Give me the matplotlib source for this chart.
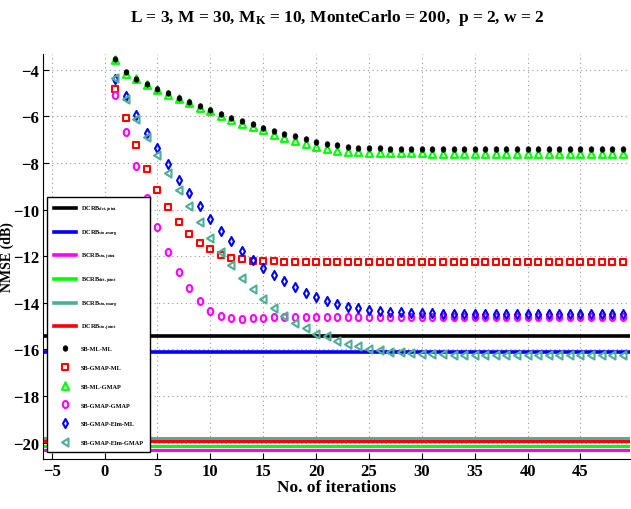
import matplotlib
matplotlib.use("Agg")
import matplotlib.pyplot as plt
from matplotlib.lines import Line2D
from matplotlib.path import Path
import numpy as np

plt.rcParams['font.family'] = ['Liberation Serif', 'DejaVu Serif']
plt.rcParams['font.weight'] = 'bold'
plt.rcParams['mathtext.fontset'] = 'custom'
plt.rcParams['mathtext.rm'] = 'Liberation Serif:bold'
plt.rcParams['mathtext.bf'] = 'Liberation Serif:bold'
plt.rcParams['mathtext.it'] = 'Liberation Serif:bold'

iterations = list(range(1, 50))

sb_ml_ml = [-3.55, -4.12, -4.38, -4.60, -4.82, -5.02, -5.20, -5.38, -5.57, -5.73,
            -5.91, -6.06, -6.21, -6.35, -6.48, -6.62, -6.74, -6.86, -6.97, -7.08,
            -7.17, -7.24, -7.30, -7.34, -7.36, -7.38, -7.39, -7.39, -7.40, -7.40,
            -7.40, -7.40, -7.40, -7.40, -7.40, -7.40, -7.40, -7.40, -7.40, -7.40,
            -7.40, -7.40, -7.40, -7.40, -7.40, -7.40, -7.40, -7.40, -7.40]
sb_ml_gmap = [-3.60, -4.17, -4.42, -4.64, -4.86, -5.07, -5.24, -5.43, -5.63, -5.79,
              -5.99, -6.15, -6.32, -6.46, -6.60, -6.78, -6.92, -7.06, -7.20, -7.32,
              -7.41, -7.47, -7.51, -7.54, -7.56, -7.57, -7.58, -7.58, -7.59, -7.59,
              -7.60, -7.60, -7.60, -7.60, -7.60, -7.60, -7.60, -7.60, -7.60, -7.60,
              -7.60, -7.60, -7.60, -7.60, -7.60, -7.60, -7.60, -7.60, -7.60]
sb_gmap_ml = [-4.82, -6.07, -7.22, -8.25, -9.15, -9.87, -10.52, -11.04, -11.42, -11.71,
              -11.94, -12.07, -12.14, -12.19, -12.21, -12.22, -12.23, -12.23, -12.24, -12.24,
              -12.24, -12.24, -12.24, -12.24, -12.24, -12.24, -12.24, -12.24, -12.24, -12.24,
              -12.24, -12.24, -12.24, -12.24, -12.24, -12.24, -12.24, -12.24, -12.24, -12.24,
              -12.24, -12.24, -12.24, -12.24, -12.24, -12.24, -12.24, -12.24, -12.24]
sb_gmap_gmap = [-5.10, -6.67, -8.13, -9.50, -10.73, -11.82, -12.68, -13.37, -13.94, -14.33,
                -14.55, -14.64, -14.68, -14.67, -14.64, -14.62, -14.61, -14.60, -14.60, -14.59,
                -14.59, -14.59, -14.59, -14.59, -14.59, -14.59, -14.59, -14.59, -14.59, -14.59,
                -14.59, -14.59, -14.59, -14.59, -14.59, -14.59, -14.59, -14.59, -14.59, -14.59,
                -14.59, -14.59, -14.59, -14.59, -14.59, -14.59, -14.59, -14.59, -14.59]
sb_gmap_elm_ml = [-4.39, -5.13, -5.93, -6.72, -7.35, -8.05, -8.71, -9.28, -9.85, -10.39,
                  -10.90, -11.34, -11.78, -12.15, -12.51, -12.80, -13.05, -13.31, -13.56, -13.75,
                  -13.91, -14.06, -14.16, -14.23, -14.31, -14.36, -14.39, -14.41, -14.43, -14.44,
                  -14.45, -14.46, -14.46, -14.46, -14.46, -14.46, -14.46, -14.46, -14.46, -14.46,
                  -14.46, -14.46, -14.46, -14.46, -14.46, -14.46, -14.46, -14.46, -14.46]
sb_gmap_elm_gmap = [-4.36, -5.24, -6.10, -6.89, -7.68, -8.42, -9.15, -9.85, -10.54, -11.22,
                    -11.82, -12.39, -12.94, -13.40, -13.83, -14.23, -14.55, -14.86, -15.09, -15.32,
                    -15.44, -15.64, -15.77, -15.87, -15.97, -16.04, -16.09, -16.13, -16.16, -16.18,
                    -16.20, -16.21, -16.22, -16.23, -16.24, -16.25, -16.25, -16.25, -16.25, -16.25,
                    -16.25, -16.25, -16.25, -16.25, -16.25, -16.25, -16.25, -16.25, -16.25]

bound_labels = [r'DCRB$_{\mathrm{det,joint}}$', r'DCRB$_{\mathrm{sto,marg}}$',
                r'BCRB$_{\mathrm{sto,joint}}$', r'BCRB$_{\mathrm{det,joint}}$',
                r'BCRB$_{\mathrm{sto,marg}}$', r'DCRB$_{\mathrm{sto,joint}}$']
bound_values = [-15.44, -16.10, -20.32, -20.14, -19.78, -19.92]
bound_colors = ['black', '#0000ff', '#ff00ff', '#00ff00', '#4fae97', '#ff0000']

series_labels = ['SB-ML-ML', 'SB-GMAP-ML', 'SB-ML-GMAP', 'SB-GMAP-GMAP',
                 'SB-GMAP-Elm-ML', 'SB-GMAP-Elm-GMAP']
series_values = [sb_ml_ml, sb_gmap_ml, sb_ml_gmap, sb_gmap_gmap, sb_gmap_elm_ml, sb_gmap_elm_gmap]
series_colors = ['black', '#ff0000', '#00ff00', '#ff00ff', '#0000ff', '#4fae97']

xticks = [-5, 0, 5, 10, 15, 20, 25, 30, 35, 40, 45]
yticks = [-20, -18, -16, -14, -12, -10, -8, -6, -4]

# vertically stretched marker shapes (as in the reference rendering)
t = np.linspace(0, 2 * np.pi, 40)
ellipse = Path(np.column_stack([0.78 * np.cos(t), np.sin(t)]), closed=True)
rect = Path([(-0.8, -1), (0.8, -1), (0.8, 1), (-0.8, 1), (-0.8, -1)], closed=True)
tri_up = Path([(0, 1), (-0.85, -0.8), (0.85, -0.8), (0, 1)], closed=True)
tri_left = Path([(-0.85, 0), (0.75, 1), (0.75, -1), (-0.85, 0)], closed=True)
diamond = Path([(0, 1), (0.55, 0), (0, -1), (-0.55, 0), (0, 1)], closed=True)
dot = Path(np.column_stack([0.85 * np.cos(t), np.sin(t)]), closed=True)
series_markers = [dot, rect, tri_up, ellipse, diamond, tri_left]
series_ms = [4, 4.8, 6, 5, 6.5, 5.8]

fig = plt.figure(figsize=(6.31, 5.10), dpi=100)
ax = fig.add_axes([0.0686, 0.098, 0.93, 0.794])

handles = []
for lab, val, col in zip(bound_labels, bound_values, bound_colors):
    ax.axhline(val, color=col, lw=2.6 if val > -17 else 2.2, zorder=2)
    handles.append(Line2D([], [], color=col, lw=2.6, label=lab))

mhandles = {}
order = [2, 0, 1, 3, 4, 5]  # green first so the black dots sit on the triangles
for i in order:
    lab, vals, col = series_labels[i], series_values[i], series_colors[i]
    mk, ms = series_markers[i], series_ms[i]
    if i == 0:
        h, = ax.plot(iterations, vals, linestyle='none', marker=mk, ms=ms,
                     mfc='black', mec='black', mew=0.5, zorder=4, label=lab)
    else:
        h, = ax.plot(iterations, vals, linestyle='none', marker=mk, ms=ms,
                     mfc='none', mec=col, mew=1.5, zorder=3, label=lab)
    mhandles[i] = h
for i in range(6):
    handles.append(mhandles[i])

ax.set_xlim(-5.8, 49.7)
ax.set_ylim(-20.7, -3.33)
ax.set_xticks(xticks)
ax.set_yticks(yticks)
ax.set_xticklabels([str(v) if v >= 0 else '\u2212' + str(-v) for v in xticks])
ax.set_yticklabels(['\u2212' + str(-v) for v in yticks])
ax.tick_params(direction='in', length=4, labelsize=12, width=0.8, pad=3)
for lab in ax.get_xticklabels() + ax.get_yticklabels():
    lab.set_fontweight('bold')
ax.spines['top'].set_visible(False)
ax.spines['right'].set_visible(False)
ax.grid(True, color='#999999', linestyle=(0, (1, 3)), lw=0.8)

ax.set_xlabel('No. of iterations', fontsize=12.5, fontweight='bold', labelpad=0)
ax.set_ylabel('NMSE (dB)', fontsize=10, fontweight='bold')
ax.yaxis.set_label_coords(-0.05, 0.5)
fig.suptitle(r'L = 3, M = 30, M$_{\mathrm{K}}$ = 10, MonteCarlo = 200,  p = 2, w = 2',
             fontsize=12.5, fontweight='bold', x=0.535, y=0.985)

leg = ax.legend(handles=handles, loc='lower left', bbox_to_anchor=(0.006, 0.017),
                prop={'size': 4.5, 'weight': 'bold'}, handlelength=3.5, numpoints=1,
                labelspacing=2.15, borderpad=1.1, handletextpad=0.8,
                borderaxespad=0.0,
                frameon=True, fancybox=False, edgecolor='black', framealpha=1)
leg.get_frame().set_linewidth(1.0)
leg.set_zorder(10)

fig.savefig('out.png', dpi=100)
